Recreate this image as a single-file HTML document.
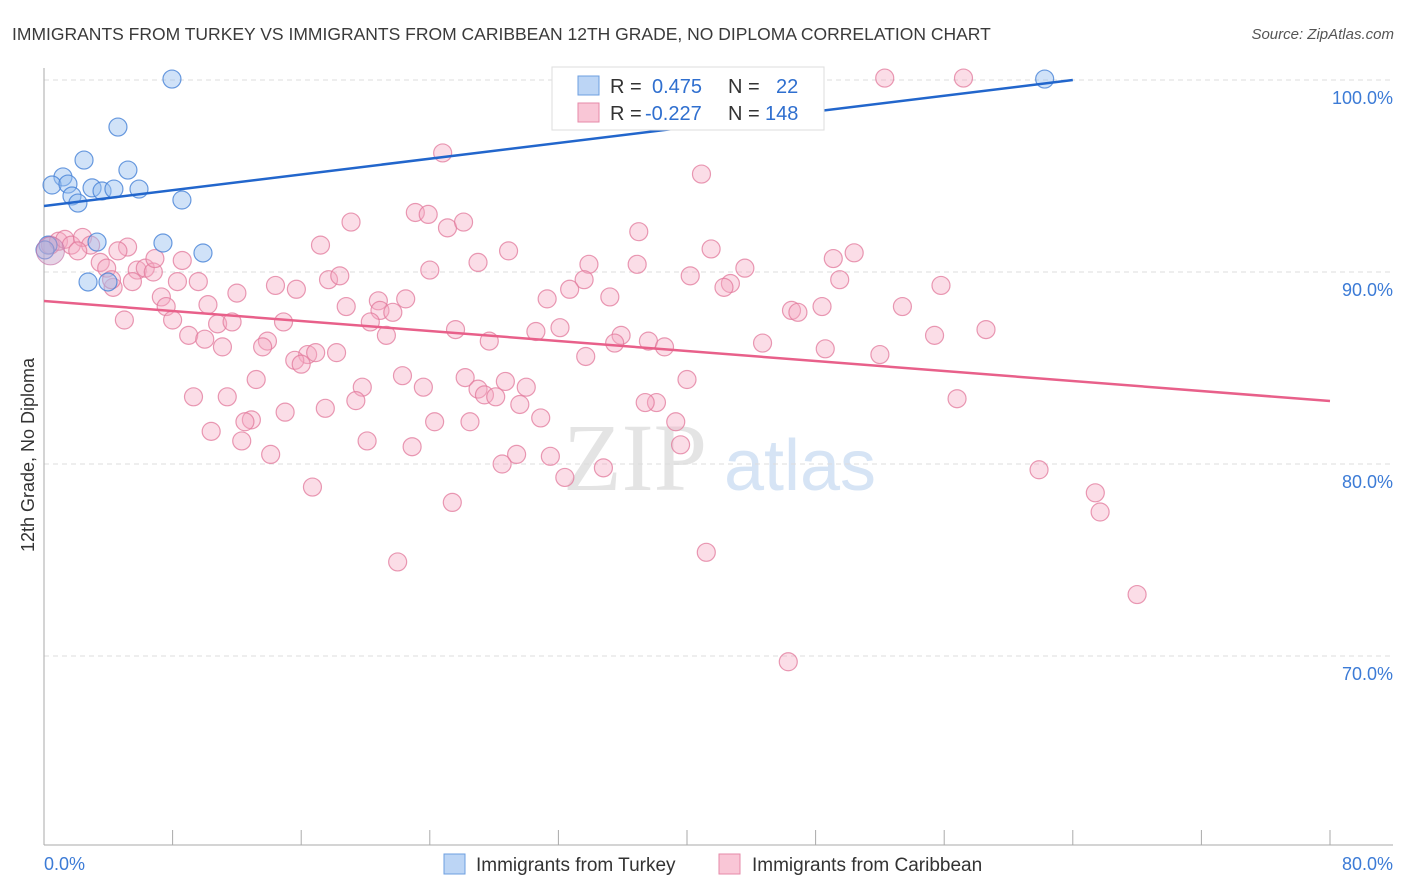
<!DOCTYPE html>
<html><head><meta charset="utf-8"><style>
body{margin:0;background:#fff;font-family:"Liberation Sans",sans-serif;}
svg{display:block}
</style></head><body>
<svg id="c" width="1406" height="892">
<text x="12" y="40" font-size="17.5" fill="#3a3a3a">IMMIGRANTS FROM TURKEY VS IMMIGRANTS FROM CARIBBEAN 12TH GRADE, NO DIPLOMA CORRELATION CHART</text>
<text x="1394" y="39" font-size="15" fill="#555" font-style="italic" text-anchor="end">Source: ZipAtlas.com</text>
<text transform="translate(34,455) rotate(-90)" font-size="18" fill="#333" text-anchor="middle">12th Grade, No Diploma</text>
<g><text x="635" y="490" font-size="96" font-family="Liberation Serif,serif" fill="#e4e4e4" text-anchor="middle">ZIP</text><text x="800" y="490" font-size="72" fill="#d6e4f5" text-anchor="middle">atlas</text></g>
<g id="grid"></g><g id="axes"></g><g id="pts"></g><g id="lines"></g>
<g>
<rect x="552" y="67" width="272" height="63" fill="#fff" stroke="#ddd"/>
<rect x="578" y="76" width="21" height="19" fill="#bcd5f5" stroke="#6d9fe0"/>
<rect x="578" y="103" width="21" height="19" fill="#f9c6d6" stroke="#e68aa8"/>
<text x="610" y="93" font-size="20" fill="#333">R = </text><text x="652" y="93" font-size="20" fill="#2f6fcf">0.475</text>
<text x="728" y="93" font-size="20" fill="#333">N = </text><text x="776" y="93" font-size="20" fill="#2f6fcf">22</text>
<text x="610" y="120" font-size="20" fill="#333">R = </text><text x="645" y="120" font-size="20" fill="#2f6fcf">-0.227</text>
<text x="728" y="120" font-size="20" fill="#333">N = </text><text x="765" y="120" font-size="20" fill="#2f6fcf">148</text>
</g>
<g>
<rect x="444" y="854" width="21" height="20" fill="#bcd5f5" stroke="#6d9fe0"/>
<text x="476" y="871" font-size="19" fill="#333">Immigrants from Turkey</text>
<rect x="719" y="854" width="21" height="20" fill="#f9c6d6" stroke="#e68aa8"/>
<text x="752" y="871" font-size="19" fill="#333">Immigrants from Caribbean</text>
</g>
</svg>
<script>
const yTicks=[100,90,80,70];
const yTickLabels=["100.0%","90.0%","80.0%","70.0%"];
const xTickCount=10;
const blueX=[7.96,4.6,2.49,5.22,1.18,0.5,1.49,2.99,3.61,4.35,5.91,1.74,2.11,8.58,7.4,3.3,9.89,2.74,3.98,62.25,0.25,0.06];
const blueY=[100.05,97.55,95.83,95.31,94.95,94.53,94.58,94.38,94.22,94.32,94.32,93.96,93.59,93.75,91.51,91.56,90.99,89.48,89.48,100.05,91.4,91.15];
const pinkX=[52.3,57.2,24.8,40.9,19.1,23.1,23.9,25.1,26.1,37.0,0.4,0.9,1.3,1.7,2.4,2.9,2.1,5.2,4.6,17.2,28.9,41.5,50.4,49.1,8.6,3.5,3.9,5.8,6.3,6.8,6.9,24.0,27.0,33.9,36.9,43.6,40.2,49.5,33.6,9.6,8.3,5.5,4.3,4.2,14.4,15.7,17.7,18.4,12.0,42.7,42.3,55.8,32.7,7.3,10.2,7.6,18.8,20.8,22.5,20.9,21.7,31.3,35.2,53.4,48.4,46.5,46.9,8.0,5.0,10.8,11.7,14.9,20.3,25.6,30.6,32.1,35.9,37.6,9.0,10.0,11.1,21.3,27.7,13.9,13.6,16.4,16.9,18.2,15.6,16.0,33.7,35.5,38.6,44.7,48.6,52.0,55.4,58.6,40.0,26.2,22.3,23.6,19.8,13.2,27.0,28.7,27.4,30.0,28.1,9.3,11.4,19.4,38.1,29.6,37.4,17.5,15.0,24.3,26.5,30.9,39.3,56.8,10.4,12.9,12.5,12.3,20.1,22.9,14.1,29.4,31.5,28.5,34.8,39.6,32.4,16.7,25.4,61.9,65.4,65.7,41.2,22.0,68.0,46.3];
const pinkY=[100.1,100.1,96.2,95.1,92.6,93.1,93.0,92.3,92.6,92.1,91.4,91.6,91.7,91.4,91.8,91.4,91.1,91.3,91.1,91.4,91.1,91.2,91.0,90.7,90.6,90.5,90.2,90.1,90.2,90.0,90.7,90.1,90.5,90.4,90.4,90.2,89.8,89.6,89.6,89.5,89.5,89.5,89.2,89.6,89.3,89.1,89.6,89.8,88.9,89.4,89.2,89.3,89.1,88.7,88.3,88.2,88.2,88.5,88.6,88.0,87.9,88.6,88.7,88.2,88.2,88.0,87.9,87.5,87.5,87.3,87.4,87.4,87.4,87.0,86.9,87.1,86.7,86.4,86.7,86.5,86.1,86.7,86.4,86.4,86.1,85.7,85.8,85.8,85.4,85.2,85.6,86.3,86.1,86.3,86.0,85.7,86.7,87.0,84.4,84.5,84.6,84.0,84.0,84.4,83.9,84.3,83.6,84.0,83.5,83.5,83.5,83.3,83.2,83.1,83.2,82.9,82.7,82.2,82.2,82.4,82.2,83.4,81.7,82.3,82.2,81.2,81.2,80.9,80.5,80.5,80.4,80.0,79.8,81.0,79.3,78.8,78.0,79.7,78.5,77.5,75.4,74.9,73.2,69.7];
const blueTrend=[[0,93.44],[64,100]];
const pinkTrend=[[0,88.49],[80,83.28]];
const NS="http://www.w3.org/2000/svg";
const X0=44,PXPER=16.075,Y100=80,PYPER=19.2;
const xs=v=>X0+v*PXPER, ys=v=>Y100+(100-v)*PYPER;
function mk(tag,attrs,parent){const e=document.createElementNS(NS,tag);for(const k in attrs)e.setAttribute(k,attrs[k]);parent.appendChild(e);return e;}
const grid=document.getElementById('grid'),axes=document.getElementById('axes'),pts=document.getElementById('pts'),lines=document.getElementById('lines');
yTicks.forEach((t,i)=>{
 const g=mk('line',{x1:44,x2:1393,y1:ys(t),y2:ys(t),stroke:'#ddd','stroke-dasharray':'5,4'},grid);
 
 
 const l=mk('text',{x:1393,y:ys(t)+24,'font-size':18,fill:'#3c7bd6','text-anchor':'end'},axes);
 l.textContent=yTickLabels[i];
 
 
});
const ya=mk('line',{x1:44,x2:44,y1:68,y2:845,stroke:'#aaa'},axes);


const xa=mk('line',{x1:44,x2:1393,y1:845,y2:845,stroke:'#aaa'},axes);


for(let i=0;i<=xTickCount;i++){const tk=mk('line',{x1:xs(i*8),x2:xs(i*8),y1:830,y2:845,stroke:'#aaa'},axes);
 
 }
const xl0=mk('text',{x:44,y:870,'font-size':18,fill:'#3c7bd6'},axes);xl0.textContent='0.0%';


const xl1=mk('text',{x:1393,y:870,'font-size':18,fill:'#3c7bd6','text-anchor':'end'},axes);xl1.textContent='80.0%';


pinkX.forEach((x,i)=>{const c=mk('circle',{cx:xs(x),cy:ys(pinkY[i]),r:9,fill:'rgba(245,170,195,0.4)',stroke:'rgba(226,120,155,0.75)','stroke-width':1.2},pts);
 
 });
blueX.forEach((x,i)=>{const c=mk('circle',{cx:xs(x),cy:ys(blueY[i]),r:9,fill:'rgba(150,190,240,0.45)',stroke:'rgba(70,130,215,0.8)','stroke-width':1.2},pts);
 
 });
const big=mk('circle',{cx:xs(0.4),cy:ys(91.1),r:14,fill:'rgba(200,160,200,0.45)',stroke:'rgba(200,120,170,0.7)'},pts);


const bl=mk('line',{x1:xs(blueTrend[0][0]),y1:ys(blueTrend[0][1]),x2:xs(blueTrend[1][0]),y2:ys(blueTrend[1][1]),stroke:'#2266cc','stroke-width':2.5},lines);


const pl=mk('line',{x1:xs(pinkTrend[0][0]),y1:ys(pinkTrend[0][1]),x2:xs(pinkTrend[1][0]),y2:ys(pinkTrend[1][1]),stroke:'#e8608a','stroke-width':2.5},lines);


</script>
</body></html>
